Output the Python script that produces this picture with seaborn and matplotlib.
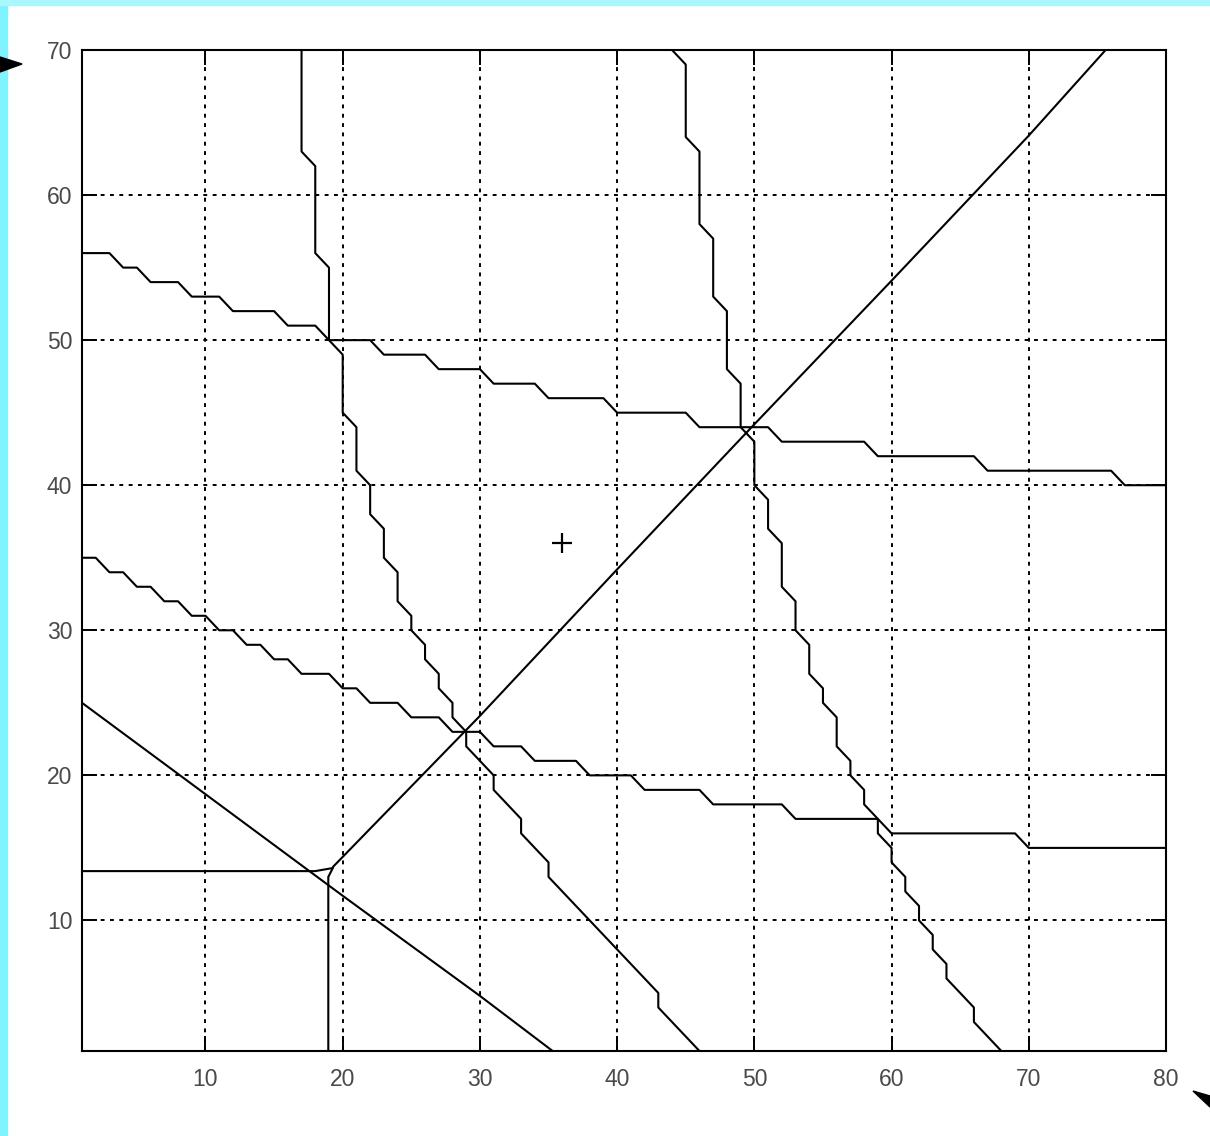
import pandas as pd
import seaborn as sns
import matplotlib.pyplot as plt
from matplotlib.patches import Polygon, Rectangle

# upper shallow staircase, y at x = 1..80
a_x = list(range(1, 81))
a_y = [56, 56, 56, 55, 55, 54, 54, 54, 53, 53, 53, 52, 52, 52, 52, 51, 51, 51, 50, 50,
       50, 50, 49, 49, 49, 49, 48, 48, 48, 48, 47, 47, 47, 47, 46, 46, 46, 46, 46, 45,
       45, 45, 45, 45, 45, 44, 44, 44, 44, 44, 44, 43, 43, 43, 43, 43, 43, 43, 42, 42,
       42, 42, 42, 42, 42, 42, 41, 41, 41, 41, 41, 41, 41, 41, 41, 41, 40, 40, 40, 40]

# lower shallow staircase, y at x = 1..80
d_x = list(range(1, 81))
d_y = [35, 35, 34, 34, 33, 33, 32, 32, 31, 31, 30, 30, 29, 29, 28, 28, 27, 27, 27, 26,
       26, 25, 25, 25, 24, 24, 24, 23, 23, 23, 22, 22, 22, 21, 21, 21, 21, 20, 20, 20,
       20, 19, 19, 19, 19, 19, 18, 18, 18, 18, 18, 18, 17, 17, 17, 17, 17, 17, 17, 16,
       16, 16, 16, 16, 16, 16, 16, 16, 16, 15, 15, 15, 15, 15, 15, 15, 15, 15, 15, 15]

# left steep staircase, x at y = 70..1
b_y = list(range(70, 0, -1))
b_x = [17, 17, 17, 17, 17, 17, 17, 17, 18, 18, 18, 18, 18, 18, 18, 19, 19, 19, 19, 19,
       19, 20, 20, 20, 20, 20, 21, 21, 21, 21, 22, 22, 22, 23, 23, 23, 24, 24, 24, 25,
       25, 26, 26, 27, 27, 28, 28, 29, 29, 30, 31, 31, 32, 33, 33, 34, 35, 35, 36, 37,
       38, 39, 40, 41, 42, 43, 43, 44, 45, 46]

# right steep staircase, x at y = 70..1
c_y = list(range(70, 0, -1))
c_x = [44, 45, 45, 45, 45, 45, 45, 46, 46, 46, 46, 46, 46, 47, 47, 47, 47, 47, 48, 48,
       48, 48, 48, 49, 49, 49, 49, 50, 50, 50, 50, 51, 51, 51, 52, 52, 52, 52, 53, 53,
       53, 54, 54, 54, 55, 55, 56, 56, 56, 57, 57, 58, 58, 59, 59, 60, 60, 61, 61, 62,
       62, 63, 63, 64, 64, 65, 66, 66, 67, 68]

# straight falling line
e_x = [1, 10, 20, 30, 35.3]
e_y = [25, 18.7, 11.7, 4.8, 1.0]

# rising diagonal
f_x = [19.3, 30, 40, 50, 60, 70, 75.6]
f_y = [13.7, 24.1, 34.2, 44.2, 54.1, 64.1, 70]

# horizontal and vertical pieces near (19, 13)
gh_x = [1, 18, 19.2]
gh_y = [13.4, 13.4, 13.6]
gv_x = [18.95, 18.95, 19.3]
gv_y = [1, 13.0, 13.65]

# the single marked point
pt_x = [36]
pt_y = [36]

x_ticks = [10, 20, 30, 40, 50, 60, 70, 80]
y_ticks = [10, 20, 30, 40, 50, 60, 70]

sns.set_style('ticks')
plt.rcParams['font.family'] = ['Liberation Sans', 'DejaVu Sans']

fig = plt.figure(figsize=(12.10, 11.36), dpi=100)
fig.patch.set_facecolor('white')
ax = fig.add_axes([82 / 1210, 1 - 1051 / 1136, (1166 - 82) / 1210, (1051 - 50) / 1136])

# dotted grid under everything
for gx in x_ticks[:-1]:
    ax.axvline(gx, color='black', lw=1.4, ls=(0, (2.0, 2.8)), zorder=1)
for gy in y_ticks[:-1]:
    ax.axhline(gy, color='black', lw=1.4, ls=(0, (2.0, 2.8)), zorder=1)

line_kw = dict(color='black', lw=1.5, sort=False, estimator=None, ax=ax, zorder=3)
sns.lineplot(x=a_x, y=a_y, **line_kw)
sns.lineplot(x=d_x, y=d_y, **line_kw)
sns.lineplot(x=b_x, y=b_y, **line_kw)
sns.lineplot(x=c_x, y=c_y, **line_kw)
sns.lineplot(x=e_x, y=e_y, **line_kw)
sns.lineplot(x=f_x, y=f_y, **line_kw)
sns.lineplot(x=gh_x, y=gh_y, **line_kw)
sns.lineplot(x=gv_x, y=gv_y, **line_kw)
sns.scatterplot(x=pt_x, y=pt_y, marker='+', s=200, color='black', linewidth=1.6,
                ax=ax, zorder=4)

ax.set_xlim(1, 80)
ax.set_ylim(1, 70)
ax.set_xticks(x_ticks)
ax.set_yticks(y_ticks)
ax.set_xlabel('')
ax.set_ylabel('')
ax.tick_params(direction='in', length=11, width=1.4, top=True, right=True,
               labelsize=16.5, labelcolor='#4a4a4a', color='black')
ax.tick_params(axis='x', pad=12)
ax.tick_params(axis='y', pad=7)
for sp in ax.spines.values():
    sp.set_visible(True)
    sp.set_color('black')
    sp.set_linewidth(1.5)

# cyan frame strips and the two black arrowheads
W, H = 1210, 1136
fig.patches.append(Rectangle((0, 0), 7 / W, 1, transform=fig.transFigure,
                             color='#7ff3ff', zorder=0))
fig.patches.append(Rectangle((0, 1 - 5 / H), 1, 5 / H, transform=fig.transFigure,
                             color='#a8f7ff', zorder=0))
arrow1 = [(0, 57), (22, 64), (0, 72)]
arrow2 = [(1193, 1091), (1210, 1096), (1210, 1107)]
for pts in (arrow1, arrow2):
    fig.patches.append(Polygon([(px / W, 1 - py / H) for px, py in pts],
                               closed=True, transform=fig.transFigure,
                               color='black', zorder=5))

fig.savefig('out.png', dpi=100)
